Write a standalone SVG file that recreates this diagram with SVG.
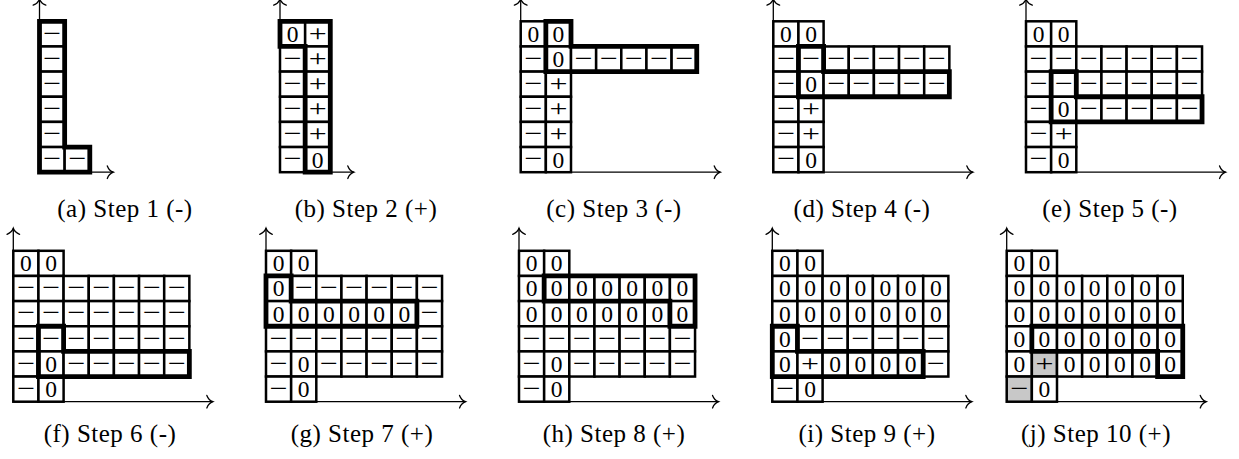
<svg xmlns="http://www.w3.org/2000/svg" width="1239" height="459" viewBox="0 0 1239 459">
<defs>
<style>
.cell{fill:#fff;stroke:#000;stroke-width:2.5}
.greycell{fill:#c8c8c8;stroke:#000;stroke-width:2.5}
.thick{fill:none;stroke:#000;stroke-width:4.8;stroke-linejoin:miter}
.z{font-family:"Liberation Serif","Times New Roman",serif;font-size:23.5px;text-anchor:middle;fill:#000}
.pm{font-family:"Liberation Serif","Times New Roman",serif;font-size:23.5px;text-anchor:middle;fill:#000}
.cap{font-family:"Liberation Serif","Times New Roman",serif;font-size:25px;text-anchor:middle;letter-spacing:0.5px;fill:#000}
.axis{fill:none;stroke:#000;stroke-width:1.3;marker-end:url(#to)}
</style>
<marker id="to" markerUnits="userSpaceOnUse" viewBox="-8 -8 10 16" refX="0" refY="0" markerWidth="10" markerHeight="16" orient="auto" overflow="visible">
<path d="M-6,-6.3 C-4.6,-2.6 -2,-0.7 0,0 C-2,0.7 -4.6,2.6 -6,6.3" fill="none" stroke="#000" stroke-width="1.3" stroke-linecap="round"/>
</marker>
<rect id="c" class="cell" width="25.15" height="25.15"/>
<rect id="g" class="greycell" width="25.15" height="25.15"/>
</defs>
<rect width="1239" height="459" fill="#fff"/>

<!-- (a) -->
<g id="panel-a" transform="translate(39.5,21.3)">
<g transform="translate(0,0)"><use href="#c"/><text class="pm" x="12.58" y="19.3" textLength="18" lengthAdjust="spacingAndGlyphs">−</text></g>
<g transform="translate(0,25.15)"><use href="#c"/><text class="pm" x="12.58" y="19.3" textLength="18" lengthAdjust="spacingAndGlyphs">−</text></g>
<g transform="translate(0,50.3)"><use href="#c"/><text class="pm" x="12.58" y="19.3" textLength="18" lengthAdjust="spacingAndGlyphs">−</text></g>
<g transform="translate(0,75.45)"><use href="#c"/><text class="pm" x="12.58" y="19.3" textLength="18" lengthAdjust="spacingAndGlyphs">−</text></g>
<g transform="translate(0,100.6)"><use href="#c"/><text class="pm" x="12.58" y="19.3" textLength="18" lengthAdjust="spacingAndGlyphs">−</text></g>
<g transform="translate(0,125.75)"><use href="#c"/><use href="#c" x="25.15"/><text class="pm" x="12.58" y="19.3" textLength="18" lengthAdjust="spacingAndGlyphs">−</text><text class="pm" x="37.73" y="19.3" textLength="18" lengthAdjust="spacingAndGlyphs">−</text></g>
<path class="thick" d="M0,0H25.15V125.75H50.3V150.9H0Z"/>
</g>

<!-- (b) -->
<g id="panel-b" transform="translate(280,21.3)">
<g transform="translate(0,0)"><use href="#c"/><use href="#c" x="25.15"/><text class="z" x="12.58" y="20.5">0</text><text class="pm" x="37.73" y="19.3" textLength="18" lengthAdjust="spacingAndGlyphs">+</text></g>
<g transform="translate(0,25.15)"><use href="#c"/><use href="#c" x="25.15"/><text class="pm" x="12.58" y="19.3" textLength="18" lengthAdjust="spacingAndGlyphs">−</text><text class="pm" x="37.73" y="19.3" textLength="18" lengthAdjust="spacingAndGlyphs">+</text></g>
<g transform="translate(0,50.3)"><use href="#c"/><use href="#c" x="25.15"/><text class="pm" x="12.58" y="19.3" textLength="18" lengthAdjust="spacingAndGlyphs">−</text><text class="pm" x="37.73" y="19.3" textLength="18" lengthAdjust="spacingAndGlyphs">+</text></g>
<g transform="translate(0,75.45)"><use href="#c"/><use href="#c" x="25.15"/><text class="pm" x="12.58" y="19.3" textLength="18" lengthAdjust="spacingAndGlyphs">−</text><text class="pm" x="37.73" y="19.3" textLength="18" lengthAdjust="spacingAndGlyphs">+</text></g>
<g transform="translate(0,100.6)"><use href="#c"/><use href="#c" x="25.15"/><text class="pm" x="12.58" y="19.3" textLength="18" lengthAdjust="spacingAndGlyphs">−</text><text class="pm" x="37.73" y="19.3" textLength="18" lengthAdjust="spacingAndGlyphs">+</text></g>
<g transform="translate(0,125.75)"><use href="#c"/><use href="#c" x="25.15"/><text class="pm" x="12.58" y="19.3" textLength="18" lengthAdjust="spacingAndGlyphs">−</text><text class="z" x="37.73" y="20.5">0</text></g>
<path class="thick" d="M0,0H50.3V150.9H25.15V25.15H0Z"/>
</g>

<!-- (c) -->
<g id="panel-c" transform="translate(520.7,21.3)">
<g transform="translate(0,0)"><use href="#c"/><use href="#c" x="25.15"/><text class="z" x="12.58" y="20.5">0</text><text class="z" x="37.73" y="20.5">0</text></g>
<g transform="translate(0,25.15)"><use href="#c"/><use href="#c" x="25.15"/><use href="#c" x="50.3"/><use href="#c" x="75.45"/><use href="#c" x="100.6"/><use href="#c" x="125.75"/><use href="#c" x="150.9"/>
<text class="pm" x="12.58" y="19.3" textLength="18" lengthAdjust="spacingAndGlyphs">−</text><text class="z" x="37.73" y="20.5">0</text><text class="pm" x="62.88" y="19.3" textLength="18" lengthAdjust="spacingAndGlyphs">−</text><text class="pm" x="88.03" y="19.3" textLength="18" lengthAdjust="spacingAndGlyphs">−</text><text class="pm" x="113.18" y="19.3" textLength="18" lengthAdjust="spacingAndGlyphs">−</text><text class="pm" x="138.33" y="19.3" textLength="18" lengthAdjust="spacingAndGlyphs">−</text><text class="pm" x="163.48" y="19.3" textLength="18" lengthAdjust="spacingAndGlyphs">−</text></g>
<g transform="translate(0,50.3)"><use href="#c"/><use href="#c" x="25.15"/><text class="pm" x="12.58" y="19.3" textLength="18" lengthAdjust="spacingAndGlyphs">−</text><text class="pm" x="37.73" y="19.3" textLength="18" lengthAdjust="spacingAndGlyphs">+</text></g>
<g transform="translate(0,75.45)"><use href="#c"/><use href="#c" x="25.15"/><text class="pm" x="12.58" y="19.3" textLength="18" lengthAdjust="spacingAndGlyphs">−</text><text class="pm" x="37.73" y="19.3" textLength="18" lengthAdjust="spacingAndGlyphs">+</text></g>
<g transform="translate(0,100.6)"><use href="#c"/><use href="#c" x="25.15"/><text class="pm" x="12.58" y="19.3" textLength="18" lengthAdjust="spacingAndGlyphs">−</text><text class="pm" x="37.73" y="19.3" textLength="18" lengthAdjust="spacingAndGlyphs">+</text></g>
<g transform="translate(0,125.75)"><use href="#c"/><use href="#c" x="25.15"/><text class="pm" x="12.58" y="19.3" textLength="18" lengthAdjust="spacingAndGlyphs">−</text><text class="z" x="37.73" y="20.5">0</text></g>
<path class="thick" d="M25.15,0H50.3V25.15H176.05V50.3H25.15Z"/>
</g>

<!-- (d) -->
<g id="panel-d" transform="translate(773.3,21.3)">
<g transform="translate(0,0)"><use href="#c"/><use href="#c" x="25.15"/><text class="z" x="12.58" y="20.5">0</text><text class="z" x="37.73" y="20.5">0</text></g>
<g transform="translate(0,25.15)"><use href="#c"/><use href="#c" x="25.15"/><use href="#c" x="50.3"/><use href="#c" x="75.45"/><use href="#c" x="100.6"/><use href="#c" x="125.75"/><use href="#c" x="150.9"/>
<text class="pm" x="12.58" y="19.3" textLength="18" lengthAdjust="spacingAndGlyphs">−</text><text class="pm" x="37.73" y="19.3" textLength="18" lengthAdjust="spacingAndGlyphs">−</text><text class="pm" x="62.88" y="19.3" textLength="18" lengthAdjust="spacingAndGlyphs">−</text><text class="pm" x="88.03" y="19.3" textLength="18" lengthAdjust="spacingAndGlyphs">−</text><text class="pm" x="113.18" y="19.3" textLength="18" lengthAdjust="spacingAndGlyphs">−</text><text class="pm" x="138.33" y="19.3" textLength="18" lengthAdjust="spacingAndGlyphs">−</text><text class="pm" x="163.48" y="19.3" textLength="18" lengthAdjust="spacingAndGlyphs">−</text></g>
<g transform="translate(0,50.3)"><use href="#c"/><use href="#c" x="25.15"/><use href="#c" x="50.3"/><use href="#c" x="75.45"/><use href="#c" x="100.6"/><use href="#c" x="125.75"/><use href="#c" x="150.9"/>
<text class="pm" x="12.58" y="19.3" textLength="18" lengthAdjust="spacingAndGlyphs">−</text><text class="z" x="37.73" y="20.5">0</text><text class="pm" x="62.88" y="19.3" textLength="18" lengthAdjust="spacingAndGlyphs">−</text><text class="pm" x="88.03" y="19.3" textLength="18" lengthAdjust="spacingAndGlyphs">−</text><text class="pm" x="113.18" y="19.3" textLength="18" lengthAdjust="spacingAndGlyphs">−</text><text class="pm" x="138.33" y="19.3" textLength="18" lengthAdjust="spacingAndGlyphs">−</text><text class="pm" x="163.48" y="19.3" textLength="18" lengthAdjust="spacingAndGlyphs">−</text></g>
<g transform="translate(0,75.45)"><use href="#c"/><use href="#c" x="25.15"/><text class="pm" x="12.58" y="19.3" textLength="18" lengthAdjust="spacingAndGlyphs">−</text><text class="pm" x="37.73" y="19.3" textLength="18" lengthAdjust="spacingAndGlyphs">+</text></g>
<g transform="translate(0,100.6)"><use href="#c"/><use href="#c" x="25.15"/><text class="pm" x="12.58" y="19.3" textLength="18" lengthAdjust="spacingAndGlyphs">−</text><text class="pm" x="37.73" y="19.3" textLength="18" lengthAdjust="spacingAndGlyphs">+</text></g>
<g transform="translate(0,125.75)"><use href="#c"/><use href="#c" x="25.15"/><text class="pm" x="12.58" y="19.3" textLength="18" lengthAdjust="spacingAndGlyphs">−</text><text class="z" x="37.73" y="20.5">0</text></g>
<path class="thick" d="M25.15,25.15H50.3V50.3H176.05V75.45H25.15Z"/>
</g>

<!-- (e) -->
<g id="panel-e" transform="translate(1026,21.3)">
<g transform="translate(0,0)"><use href="#c"/><use href="#c" x="25.15"/><text class="z" x="12.58" y="20.5">0</text><text class="z" x="37.73" y="20.5">0</text></g>
<g transform="translate(0,25.15)"><use href="#c"/><use href="#c" x="25.15"/><use href="#c" x="50.3"/><use href="#c" x="75.45"/><use href="#c" x="100.6"/><use href="#c" x="125.75"/><use href="#c" x="150.9"/>
<text class="pm" x="12.58" y="19.3" textLength="18" lengthAdjust="spacingAndGlyphs">−</text><text class="pm" x="37.73" y="19.3" textLength="18" lengthAdjust="spacingAndGlyphs">−</text><text class="pm" x="62.88" y="19.3" textLength="18" lengthAdjust="spacingAndGlyphs">−</text><text class="pm" x="88.03" y="19.3" textLength="18" lengthAdjust="spacingAndGlyphs">−</text><text class="pm" x="113.18" y="19.3" textLength="18" lengthAdjust="spacingAndGlyphs">−</text><text class="pm" x="138.33" y="19.3" textLength="18" lengthAdjust="spacingAndGlyphs">−</text><text class="pm" x="163.48" y="19.3" textLength="18" lengthAdjust="spacingAndGlyphs">−</text></g>
<g transform="translate(0,50.3)"><use href="#c"/><use href="#c" x="25.15"/><use href="#c" x="50.3"/><use href="#c" x="75.45"/><use href="#c" x="100.6"/><use href="#c" x="125.75"/><use href="#c" x="150.9"/>
<text class="pm" x="12.58" y="19.3" textLength="18" lengthAdjust="spacingAndGlyphs">−</text><text class="pm" x="37.73" y="19.3" textLength="18" lengthAdjust="spacingAndGlyphs">−</text><text class="pm" x="62.88" y="19.3" textLength="18" lengthAdjust="spacingAndGlyphs">−</text><text class="pm" x="88.03" y="19.3" textLength="18" lengthAdjust="spacingAndGlyphs">−</text><text class="pm" x="113.18" y="19.3" textLength="18" lengthAdjust="spacingAndGlyphs">−</text><text class="pm" x="138.33" y="19.3" textLength="18" lengthAdjust="spacingAndGlyphs">−</text><text class="pm" x="163.48" y="19.3" textLength="18" lengthAdjust="spacingAndGlyphs">−</text></g>
<g transform="translate(0,75.45)"><use href="#c"/><use href="#c" x="25.15"/><use href="#c" x="50.3"/><use href="#c" x="75.45"/><use href="#c" x="100.6"/><use href="#c" x="125.75"/><use href="#c" x="150.9"/>
<text class="pm" x="12.58" y="19.3" textLength="18" lengthAdjust="spacingAndGlyphs">−</text><text class="z" x="37.73" y="20.5">0</text><text class="pm" x="62.88" y="19.3" textLength="18" lengthAdjust="spacingAndGlyphs">−</text><text class="pm" x="88.03" y="19.3" textLength="18" lengthAdjust="spacingAndGlyphs">−</text><text class="pm" x="113.18" y="19.3" textLength="18" lengthAdjust="spacingAndGlyphs">−</text><text class="pm" x="138.33" y="19.3" textLength="18" lengthAdjust="spacingAndGlyphs">−</text><text class="pm" x="163.48" y="19.3" textLength="18" lengthAdjust="spacingAndGlyphs">−</text></g>
<g transform="translate(0,100.6)"><use href="#c"/><use href="#c" x="25.15"/><text class="pm" x="12.58" y="19.3" textLength="18" lengthAdjust="spacingAndGlyphs">−</text><text class="pm" x="37.73" y="19.3" textLength="18" lengthAdjust="spacingAndGlyphs">+</text></g>
<g transform="translate(0,125.75)"><use href="#c"/><use href="#c" x="25.15"/><text class="pm" x="12.58" y="19.3" textLength="18" lengthAdjust="spacingAndGlyphs">−</text><text class="z" x="37.73" y="20.5">0</text></g>
<path class="thick" d="M25.15,50.3H50.3V75.45H176.05V100.6H25.15Z"/>
</g>

<!-- (f) -->
<g id="panel-f" transform="translate(13.3,250.8)">
<g transform="translate(0,0)"><use href="#c"/><use href="#c" x="25.15"/><text class="z" x="12.58" y="20.5">0</text><text class="z" x="37.73" y="20.5">0</text></g>
<g transform="translate(0,25.15)"><use href="#c"/><use href="#c" x="25.15"/><use href="#c" x="50.3"/><use href="#c" x="75.45"/><use href="#c" x="100.6"/><use href="#c" x="125.75"/><use href="#c" x="150.9"/>
<text class="pm" x="12.58" y="19.3" textLength="18" lengthAdjust="spacingAndGlyphs">−</text><text class="pm" x="37.73" y="19.3" textLength="18" lengthAdjust="spacingAndGlyphs">−</text><text class="pm" x="62.88" y="19.3" textLength="18" lengthAdjust="spacingAndGlyphs">−</text><text class="pm" x="88.03" y="19.3" textLength="18" lengthAdjust="spacingAndGlyphs">−</text><text class="pm" x="113.18" y="19.3" textLength="18" lengthAdjust="spacingAndGlyphs">−</text><text class="pm" x="138.33" y="19.3" textLength="18" lengthAdjust="spacingAndGlyphs">−</text><text class="pm" x="163.48" y="19.3" textLength="18" lengthAdjust="spacingAndGlyphs">−</text></g>
<g transform="translate(0,50.3)"><use href="#c"/><use href="#c" x="25.15"/><use href="#c" x="50.3"/><use href="#c" x="75.45"/><use href="#c" x="100.6"/><use href="#c" x="125.75"/><use href="#c" x="150.9"/>
<text class="pm" x="12.58" y="19.3" textLength="18" lengthAdjust="spacingAndGlyphs">−</text><text class="pm" x="37.73" y="19.3" textLength="18" lengthAdjust="spacingAndGlyphs">−</text><text class="pm" x="62.88" y="19.3" textLength="18" lengthAdjust="spacingAndGlyphs">−</text><text class="pm" x="88.03" y="19.3" textLength="18" lengthAdjust="spacingAndGlyphs">−</text><text class="pm" x="113.18" y="19.3" textLength="18" lengthAdjust="spacingAndGlyphs">−</text><text class="pm" x="138.33" y="19.3" textLength="18" lengthAdjust="spacingAndGlyphs">−</text><text class="pm" x="163.48" y="19.3" textLength="18" lengthAdjust="spacingAndGlyphs">−</text></g>
<g transform="translate(0,75.45)"><use href="#c"/><use href="#c" x="25.15"/><use href="#c" x="50.3"/><use href="#c" x="75.45"/><use href="#c" x="100.6"/><use href="#c" x="125.75"/><use href="#c" x="150.9"/>
<text class="pm" x="12.58" y="19.3" textLength="18" lengthAdjust="spacingAndGlyphs">−</text><text class="pm" x="37.73" y="19.3" textLength="18" lengthAdjust="spacingAndGlyphs">−</text><text class="pm" x="62.88" y="19.3" textLength="18" lengthAdjust="spacingAndGlyphs">−</text><text class="pm" x="88.03" y="19.3" textLength="18" lengthAdjust="spacingAndGlyphs">−</text><text class="pm" x="113.18" y="19.3" textLength="18" lengthAdjust="spacingAndGlyphs">−</text><text class="pm" x="138.33" y="19.3" textLength="18" lengthAdjust="spacingAndGlyphs">−</text><text class="pm" x="163.48" y="19.3" textLength="18" lengthAdjust="spacingAndGlyphs">−</text></g>
<g transform="translate(0,100.6)"><use href="#c"/><use href="#c" x="25.15"/><use href="#c" x="50.3"/><use href="#c" x="75.45"/><use href="#c" x="100.6"/><use href="#c" x="125.75"/><use href="#c" x="150.9"/>
<text class="pm" x="12.58" y="19.3" textLength="18" lengthAdjust="spacingAndGlyphs">−</text><text class="z" x="37.73" y="20.5">0</text><text class="pm" x="62.88" y="19.3" textLength="18" lengthAdjust="spacingAndGlyphs">−</text><text class="pm" x="88.03" y="19.3" textLength="18" lengthAdjust="spacingAndGlyphs">−</text><text class="pm" x="113.18" y="19.3" textLength="18" lengthAdjust="spacingAndGlyphs">−</text><text class="pm" x="138.33" y="19.3" textLength="18" lengthAdjust="spacingAndGlyphs">−</text><text class="pm" x="163.48" y="19.3" textLength="18" lengthAdjust="spacingAndGlyphs">−</text></g>
<g transform="translate(0,125.75)"><use href="#c"/><use href="#c" x="25.15"/><text class="pm" x="12.58" y="19.3" textLength="18" lengthAdjust="spacingAndGlyphs">−</text><text class="z" x="37.73" y="20.5">0</text></g>
<path class="thick" d="M25.15,75.45H50.3V100.6H176.05V125.75H25.15Z"/>
</g>

<!-- (g) -->
<g id="panel-g" transform="translate(266,250.8)">
<g transform="translate(0,0)"><use href="#c"/><use href="#c" x="25.15"/><text class="z" x="12.58" y="20.5">0</text><text class="z" x="37.73" y="20.5">0</text></g>
<g transform="translate(0,25.15)"><use href="#c"/><use href="#c" x="25.15"/><use href="#c" x="50.3"/><use href="#c" x="75.45"/><use href="#c" x="100.6"/><use href="#c" x="125.75"/><use href="#c" x="150.9"/>
<text class="z" x="12.58" y="20.5">0</text><text class="pm" x="37.73" y="19.3" textLength="18" lengthAdjust="spacingAndGlyphs">−</text><text class="pm" x="62.88" y="19.3" textLength="18" lengthAdjust="spacingAndGlyphs">−</text><text class="pm" x="88.03" y="19.3" textLength="18" lengthAdjust="spacingAndGlyphs">−</text><text class="pm" x="113.18" y="19.3" textLength="18" lengthAdjust="spacingAndGlyphs">−</text><text class="pm" x="138.33" y="19.3" textLength="18" lengthAdjust="spacingAndGlyphs">−</text><text class="pm" x="163.48" y="19.3" textLength="18" lengthAdjust="spacingAndGlyphs">−</text></g>
<g transform="translate(0,50.3)"><use href="#c"/><use href="#c" x="25.15"/><use href="#c" x="50.3"/><use href="#c" x="75.45"/><use href="#c" x="100.6"/><use href="#c" x="125.75"/><use href="#c" x="150.9"/>
<text class="z" x="12.58" y="20.5">0</text><text class="z" x="37.73" y="20.5">0</text><text class="z" x="62.88" y="20.5">0</text><text class="z" x="88.03" y="20.5">0</text><text class="z" x="113.18" y="20.5">0</text><text class="z" x="138.33" y="20.5">0</text><text class="pm" x="163.48" y="19.3" textLength="18" lengthAdjust="spacingAndGlyphs">−</text></g>
<g transform="translate(0,75.45)"><use href="#c"/><use href="#c" x="25.15"/><use href="#c" x="50.3"/><use href="#c" x="75.45"/><use href="#c" x="100.6"/><use href="#c" x="125.75"/><use href="#c" x="150.9"/>
<text class="pm" x="12.58" y="19.3" textLength="18" lengthAdjust="spacingAndGlyphs">−</text><text class="pm" x="37.73" y="19.3" textLength="18" lengthAdjust="spacingAndGlyphs">−</text><text class="pm" x="62.88" y="19.3" textLength="18" lengthAdjust="spacingAndGlyphs">−</text><text class="pm" x="88.03" y="19.3" textLength="18" lengthAdjust="spacingAndGlyphs">−</text><text class="pm" x="113.18" y="19.3" textLength="18" lengthAdjust="spacingAndGlyphs">−</text><text class="pm" x="138.33" y="19.3" textLength="18" lengthAdjust="spacingAndGlyphs">−</text><text class="pm" x="163.48" y="19.3" textLength="18" lengthAdjust="spacingAndGlyphs">−</text></g>
<g transform="translate(0,100.6)"><use href="#c"/><use href="#c" x="25.15"/><use href="#c" x="50.3"/><use href="#c" x="75.45"/><use href="#c" x="100.6"/><use href="#c" x="125.75"/><use href="#c" x="150.9"/>
<text class="pm" x="12.58" y="19.3" textLength="18" lengthAdjust="spacingAndGlyphs">−</text><text class="z" x="37.73" y="20.5">0</text><text class="pm" x="62.88" y="19.3" textLength="18" lengthAdjust="spacingAndGlyphs">−</text><text class="pm" x="88.03" y="19.3" textLength="18" lengthAdjust="spacingAndGlyphs">−</text><text class="pm" x="113.18" y="19.3" textLength="18" lengthAdjust="spacingAndGlyphs">−</text><text class="pm" x="138.33" y="19.3" textLength="18" lengthAdjust="spacingAndGlyphs">−</text><text class="pm" x="163.48" y="19.3" textLength="18" lengthAdjust="spacingAndGlyphs">−</text></g>
<g transform="translate(0,125.75)"><use href="#c"/><use href="#c" x="25.15"/><text class="pm" x="12.58" y="19.3" textLength="18" lengthAdjust="spacingAndGlyphs">−</text><text class="z" x="37.73" y="20.5">0</text></g>
<path class="thick" d="M0,25.15H25.15V50.3H150.9V75.45H0Z"/>
</g>

<!-- (h) -->
<g id="panel-h" transform="translate(519,250.8)">
<g transform="translate(0,0)"><use href="#c"/><use href="#c" x="25.15"/><text class="z" x="12.58" y="20.5">0</text><text class="z" x="37.73" y="20.5">0</text></g>
<g transform="translate(0,25.15)"><use href="#c"/><use href="#c" x="25.15"/><use href="#c" x="50.3"/><use href="#c" x="75.45"/><use href="#c" x="100.6"/><use href="#c" x="125.75"/><use href="#c" x="150.9"/>
<text class="z" x="12.58" y="20.5">0</text><text class="z" x="37.73" y="20.5">0</text><text class="z" x="62.88" y="20.5">0</text><text class="z" x="88.03" y="20.5">0</text><text class="z" x="113.18" y="20.5">0</text><text class="z" x="138.33" y="20.5">0</text><text class="z" x="163.48" y="20.5">0</text></g>
<g transform="translate(0,50.3)"><use href="#c"/><use href="#c" x="25.15"/><use href="#c" x="50.3"/><use href="#c" x="75.45"/><use href="#c" x="100.6"/><use href="#c" x="125.75"/><use href="#c" x="150.9"/>
<text class="z" x="12.58" y="20.5">0</text><text class="z" x="37.73" y="20.5">0</text><text class="z" x="62.88" y="20.5">0</text><text class="z" x="88.03" y="20.5">0</text><text class="z" x="113.18" y="20.5">0</text><text class="z" x="138.33" y="20.5">0</text><text class="z" x="163.48" y="20.5">0</text></g>
<g transform="translate(0,75.45)"><use href="#c"/><use href="#c" x="25.15"/><use href="#c" x="50.3"/><use href="#c" x="75.45"/><use href="#c" x="100.6"/><use href="#c" x="125.75"/><use href="#c" x="150.9"/>
<text class="pm" x="12.58" y="19.3" textLength="18" lengthAdjust="spacingAndGlyphs">−</text><text class="pm" x="37.73" y="19.3" textLength="18" lengthAdjust="spacingAndGlyphs">−</text><text class="pm" x="62.88" y="19.3" textLength="18" lengthAdjust="spacingAndGlyphs">−</text><text class="pm" x="88.03" y="19.3" textLength="18" lengthAdjust="spacingAndGlyphs">−</text><text class="pm" x="113.18" y="19.3" textLength="18" lengthAdjust="spacingAndGlyphs">−</text><text class="pm" x="138.33" y="19.3" textLength="18" lengthAdjust="spacingAndGlyphs">−</text><text class="pm" x="163.48" y="19.3" textLength="18" lengthAdjust="spacingAndGlyphs">−</text></g>
<g transform="translate(0,100.6)"><use href="#c"/><use href="#c" x="25.15"/><use href="#c" x="50.3"/><use href="#c" x="75.45"/><use href="#c" x="100.6"/><use href="#c" x="125.75"/><use href="#c" x="150.9"/>
<text class="pm" x="12.58" y="19.3" textLength="18" lengthAdjust="spacingAndGlyphs">−</text><text class="z" x="37.73" y="20.5">0</text><text class="pm" x="62.88" y="19.3" textLength="18" lengthAdjust="spacingAndGlyphs">−</text><text class="pm" x="88.03" y="19.3" textLength="18" lengthAdjust="spacingAndGlyphs">−</text><text class="pm" x="113.18" y="19.3" textLength="18" lengthAdjust="spacingAndGlyphs">−</text><text class="pm" x="138.33" y="19.3" textLength="18" lengthAdjust="spacingAndGlyphs">−</text><text class="pm" x="163.48" y="19.3" textLength="18" lengthAdjust="spacingAndGlyphs">−</text></g>
<g transform="translate(0,125.75)"><use href="#c"/><use href="#c" x="25.15"/><text class="pm" x="12.58" y="19.3" textLength="18" lengthAdjust="spacingAndGlyphs">−</text><text class="z" x="37.73" y="20.5">0</text></g>
<path class="thick" d="M25.15,25.15H176.05V75.45H150.9V50.3H25.15Z"/>
</g>

<!-- (i) -->
<g id="panel-i" transform="translate(772.3,250.8)">
<g transform="translate(0,0)"><use href="#c"/><use href="#c" x="25.15"/><text class="z" x="12.58" y="20.5">0</text><text class="z" x="37.73" y="20.5">0</text></g>
<g transform="translate(0,25.15)"><use href="#c"/><use href="#c" x="25.15"/><use href="#c" x="50.3"/><use href="#c" x="75.45"/><use href="#c" x="100.6"/><use href="#c" x="125.75"/><use href="#c" x="150.9"/>
<text class="z" x="12.58" y="20.5">0</text><text class="z" x="37.73" y="20.5">0</text><text class="z" x="62.88" y="20.5">0</text><text class="z" x="88.03" y="20.5">0</text><text class="z" x="113.18" y="20.5">0</text><text class="z" x="138.33" y="20.5">0</text><text class="z" x="163.48" y="20.5">0</text></g>
<g transform="translate(0,50.3)"><use href="#c"/><use href="#c" x="25.15"/><use href="#c" x="50.3"/><use href="#c" x="75.45"/><use href="#c" x="100.6"/><use href="#c" x="125.75"/><use href="#c" x="150.9"/>
<text class="z" x="12.58" y="20.5">0</text><text class="z" x="37.73" y="20.5">0</text><text class="z" x="62.88" y="20.5">0</text><text class="z" x="88.03" y="20.5">0</text><text class="z" x="113.18" y="20.5">0</text><text class="z" x="138.33" y="20.5">0</text><text class="z" x="163.48" y="20.5">0</text></g>
<g transform="translate(0,75.45)"><use href="#c"/><use href="#c" x="25.15"/><use href="#c" x="50.3"/><use href="#c" x="75.45"/><use href="#c" x="100.6"/><use href="#c" x="125.75"/><use href="#c" x="150.9"/>
<text class="z" x="12.58" y="20.5">0</text><text class="pm" x="37.73" y="19.3" textLength="18" lengthAdjust="spacingAndGlyphs">−</text><text class="pm" x="62.88" y="19.3" textLength="18" lengthAdjust="spacingAndGlyphs">−</text><text class="pm" x="88.03" y="19.3" textLength="18" lengthAdjust="spacingAndGlyphs">−</text><text class="pm" x="113.18" y="19.3" textLength="18" lengthAdjust="spacingAndGlyphs">−</text><text class="pm" x="138.33" y="19.3" textLength="18" lengthAdjust="spacingAndGlyphs">−</text><text class="pm" x="163.48" y="19.3" textLength="18" lengthAdjust="spacingAndGlyphs">−</text></g>
<g transform="translate(0,100.6)"><use href="#c"/><use href="#c" x="25.15"/><use href="#c" x="50.3"/><use href="#c" x="75.45"/><use href="#c" x="100.6"/><use href="#c" x="125.75"/><use href="#c" x="150.9"/>
<text class="z" x="12.58" y="20.5">0</text><text class="pm" x="37.73" y="19.3" textLength="18" lengthAdjust="spacingAndGlyphs">+</text><text class="z" x="62.88" y="20.5">0</text><text class="z" x="88.03" y="20.5">0</text><text class="z" x="113.18" y="20.5">0</text><text class="z" x="138.33" y="20.5">0</text><text class="pm" x="163.48" y="19.3" textLength="18" lengthAdjust="spacingAndGlyphs">−</text></g>
<g transform="translate(0,125.75)"><use href="#c"/><use href="#c" x="25.15"/><text class="pm" x="12.58" y="19.3" textLength="18" lengthAdjust="spacingAndGlyphs">−</text><text class="z" x="37.73" y="20.5">0</text></g>
<path class="thick" d="M0,75.45H25.15V100.6H150.9V125.75H0Z"/>
</g>

<!-- (j) -->
<g id="panel-j" transform="translate(1006.7,250.8)">
<g transform="translate(0,0)"><use href="#c"/><use href="#c" x="25.15"/><text class="z" x="12.58" y="20.5">0</text><text class="z" x="37.73" y="20.5">0</text></g>
<g transform="translate(0,25.15)"><use href="#c"/><use href="#c" x="25.15"/><use href="#c" x="50.3"/><use href="#c" x="75.45"/><use href="#c" x="100.6"/><use href="#c" x="125.75"/><use href="#c" x="150.9"/>
<text class="z" x="12.58" y="20.5">0</text><text class="z" x="37.73" y="20.5">0</text><text class="z" x="62.88" y="20.5">0</text><text class="z" x="88.03" y="20.5">0</text><text class="z" x="113.18" y="20.5">0</text><text class="z" x="138.33" y="20.5">0</text><text class="z" x="163.48" y="20.5">0</text></g>
<g transform="translate(0,50.3)"><use href="#c"/><use href="#c" x="25.15"/><use href="#c" x="50.3"/><use href="#c" x="75.45"/><use href="#c" x="100.6"/><use href="#c" x="125.75"/><use href="#c" x="150.9"/>
<text class="z" x="12.58" y="20.5">0</text><text class="z" x="37.73" y="20.5">0</text><text class="z" x="62.88" y="20.5">0</text><text class="z" x="88.03" y="20.5">0</text><text class="z" x="113.18" y="20.5">0</text><text class="z" x="138.33" y="20.5">0</text><text class="z" x="163.48" y="20.5">0</text></g>
<g transform="translate(0,75.45)"><use href="#c"/><use href="#c" x="25.15"/><use href="#c" x="50.3"/><use href="#c" x="75.45"/><use href="#c" x="100.6"/><use href="#c" x="125.75"/><use href="#c" x="150.9"/>
<text class="z" x="12.58" y="20.5">0</text><text class="z" x="37.73" y="20.5">0</text><text class="z" x="62.88" y="20.5">0</text><text class="z" x="88.03" y="20.5">0</text><text class="z" x="113.18" y="20.5">0</text><text class="z" x="138.33" y="20.5">0</text><text class="z" x="163.48" y="20.5">0</text></g>
<g transform="translate(0,100.6)"><use href="#c"/><use href="#g" x="25.15"/><use href="#c" x="50.3"/><use href="#c" x="75.45"/><use href="#c" x="100.6"/><use href="#c" x="125.75"/><use href="#c" x="150.9"/>
<text class="z" x="12.58" y="20.5">0</text><text class="pm" x="37.73" y="19.3" textLength="18" lengthAdjust="spacingAndGlyphs">+</text><text class="z" x="62.88" y="20.5">0</text><text class="z" x="88.03" y="20.5">0</text><text class="z" x="113.18" y="20.5">0</text><text class="z" x="138.33" y="20.5">0</text><text class="z" x="163.48" y="20.5">0</text></g>
<g transform="translate(0,125.75)"><use href="#g"/><use href="#c" x="25.15"/><text class="pm" x="12.58" y="19.3" textLength="18" lengthAdjust="spacingAndGlyphs">−</text><text class="z" x="37.73" y="20.5">0</text></g>
<path class="thick" d="M25.15,75.45H176.05V125.75H150.9V100.6H25.15Z"/>
</g>

<!-- axes (connectors) -->
<g id="axes">
<line class="axis" x1="39.5" y1="172.2" x2="39.5" y2="-0.8"/><line class="axis" x1="39.5" y1="172.2" x2="113.3" y2="172.2"/>
<line class="axis" x1="280" y1="172.2" x2="280" y2="-0.8"/><line class="axis" x1="280" y1="172.2" x2="353.8" y2="172.2"/>
<line class="axis" x1="520.7" y1="172.2" x2="520.7" y2="-0.8"/><line class="axis" x1="520.7" y1="172.2" x2="720.25" y2="172.2"/>
<line class="axis" x1="773.3" y1="172.2" x2="773.3" y2="-0.8"/><line class="axis" x1="773.3" y1="172.2" x2="972.85" y2="172.2"/>
<line class="axis" x1="1026" y1="172.2" x2="1026" y2="-0.8"/><line class="axis" x1="1026" y1="172.2" x2="1225.55" y2="172.2"/>
<line class="axis" x1="13.3" y1="401.7" x2="13.3" y2="228.3"/><line class="axis" x1="13.3" y1="401.7" x2="212.85" y2="401.7"/>
<line class="axis" x1="266" y1="401.7" x2="266" y2="228.3"/><line class="axis" x1="266" y1="401.7" x2="465.55" y2="401.7"/>
<line class="axis" x1="519" y1="401.7" x2="519" y2="228.3"/><line class="axis" x1="519" y1="401.7" x2="718.55" y2="401.7"/>
<line class="axis" x1="772.3" y1="401.7" x2="772.3" y2="228.3"/><line class="axis" x1="772.3" y1="401.7" x2="971.85" y2="401.7"/>
<line class="axis" x1="1006.7" y1="401.7" x2="1006.7" y2="228.3"/><line class="axis" x1="1006.7" y1="401.7" x2="1206.25" y2="401.7"/>
</g>

<!-- captions -->
<g id="captions">
<text class="cap" x="125" y="216.5">(a) Step 1 (-)</text>
<text class="cap" x="366" y="216.5">(b) Step 2 (+)</text>
<text class="cap" x="614" y="216.5">(c) Step 3 (-)</text>
<text class="cap" x="862" y="216.5">(d) Step 4 (-)</text>
<text class="cap" x="1110" y="216.5">(e) Step 5 (-)</text>
<text class="cap" x="110" y="442">(f) Step 6 (-)</text>
<text class="cap" x="362" y="442">(g) Step 7 (+)</text>
<text class="cap" x="614" y="442">(h) Step 8 (+)</text>
<text class="cap" x="867" y="442">(i) Step 9 (+)</text>
<text class="cap" x="1096" y="442">(j) Step 10 (+)</text>
</g>
</svg>
